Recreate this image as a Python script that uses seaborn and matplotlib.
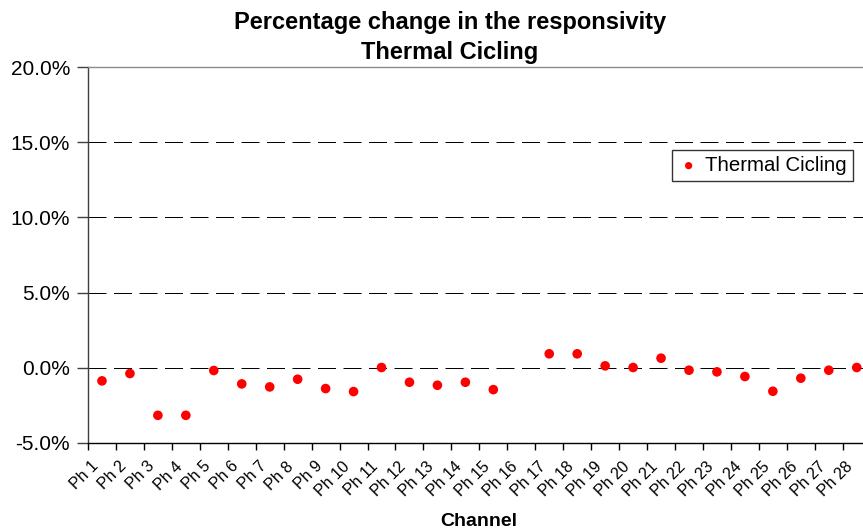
import numpy as np
import pandas as pd
import matplotlib
matplotlib.use("Agg")
import matplotlib.pyplot as plt
import matplotlib.transforms as mtransforms
from matplotlib.ticker import FixedLocator, FuncFormatter
import seaborn as sns

# Channel names and the percentage change in responsivity after thermal cycling
channels = ["Ph 1", "Ph 2", "Ph 3", "Ph 4", "Ph 5", "Ph 6", "Ph 7", "Ph 8",
            "Ph 9", "Ph 10", "Ph 11", "Ph 12", "Ph 13", "Ph 14", "Ph 15",
            "Ph 16", "Ph 17", "Ph 18", "Ph 19", "Ph 20", "Ph 21", "Ph 22",
            "Ph 23", "Ph 24", "Ph 25", "Ph 26", "Ph 27", "Ph 28"]
change_pct = [-0.87, -0.38, -3.16, -3.16, -0.18, -1.07, -1.27, -0.76,
              -1.38, -1.58, 0.02, -0.96, -1.16, -0.96, -1.45,
              np.nan, 0.93, 0.93, 0.13, 0.02, 0.64, -0.16,
              -0.27, -0.58, -1.56, -0.69, -0.16, 0.02]
series_name = "Thermal Cicling"
y_ticks = [-5, 0, 5, 10, 15, 20]

sns.set_theme(style="white")
plt.rcParams["font.family"] = ["Liberation Sans", "DejaVu Sans"]
plt.rcParams["text.color"] = "black"
plt.rcParams["xtick.color"] = "black"
plt.rcParams["ytick.color"] = "black"
plt.rcParams["axes.labelcolor"] = "black"

df = pd.DataFrame({
    "pos": np.arange(len(channels)),
    "Channel": channels,
    "Change": change_pct,
})

fig = plt.figure(figsize=(8.63, 5.32), dpi=100)
ax = fig.add_axes([88 / 863, 89 / 532, 782.7 / 863, 376 / 532])

# dashed horizontal gridlines
for yv in y_ticks[1:-1]:
    ax.axhline(yv, color="black", lw=0.72, ls=(0, (18, 7.5)), zorder=1)

sns.scatterplot(data=df, x="pos", y="Change", ax=ax, color="red",
                s=48, edgecolor="none", label=series_name, zorder=3)

ax.set_xlim(-0.5, len(channels) - 0.5)
ax.set_ylim(y_ticks[0], y_ticks[-1])

ax.yaxis.set_major_locator(FixedLocator(y_ticks))
ax.yaxis.set_major_formatter(FuncFormatter(lambda v, p: f"{v:.1f}%"))
ax.tick_params(axis="y", which="major", direction="out", length=8, width=1,
               color="#404040", labelcolor="black", labelsize=15, pad=5,
               left=True)

ax.set_xticks(df["pos"])
ax.set_xticklabels(channels, rotation=45, ha="right", va="center",
                   rotation_mode="anchor", fontsize=11.5, color="black")
ax.set_xticks(np.arange(len(channels) + 1) - 0.5, minor=True)
ax.tick_params(axis="x", which="major", length=0, pad=0)
ax.tick_params(axis="x", which="minor", direction="out", length=5, width=1,
               color="black", bottom=True)
shift = mtransforms.ScaledTranslation(-6 / 100, -21 / 100, fig.dpi_scale_trans)
for lbl in ax.get_xticklabels():
    lbl.set_transform(lbl.get_transform() + shift)

for side in ["left", "bottom", "top", "right"]:
    ax.spines[side].set_visible(True)
ax.spines["left"].set_color("#404040")
ax.spines["bottom"].set_color("black")
ax.spines["top"].set_color("#8c8c8c")
ax.spines["right"].set_visible(False)
for sp in ax.spines.values():
    sp.set_linewidth(1)

ax.set_xlabel("")
ax.set_ylabel("")

fig.text(478.7 / 863, 1 - 521.7 / 532, "Channel", ha="center", va="center",
         fontsize=14, fontweight="bold", color="black")
fig.text(450 / 863, 1 - 22 / 532, "Percentage change in the responsivity",
         ha="center", va="center", fontsize=17, fontweight="bold",
         color="black")
fig.text(450 / 863, 1 - 53 / 532, series_name,
         ha="center", va="center", fontsize=17, fontweight="bold",
         color="black")

leg = ax.legend(loc="center", bbox_to_anchor=(762.5 / 863, 1 - 165.5 / 532),
                bbox_transform=fig.transFigure, fontsize=14.7, frameon=True,
                fancybox=False, edgecolor="black", markerscale=0.75,
                handletextpad=0.3, borderpad=0.3, handlelength=1.0)
leg.get_frame().set_linewidth(1)
for t in leg.get_texts():
    t.set_color("black")

fig.savefig("out.png", dpi=100, facecolor="white")
